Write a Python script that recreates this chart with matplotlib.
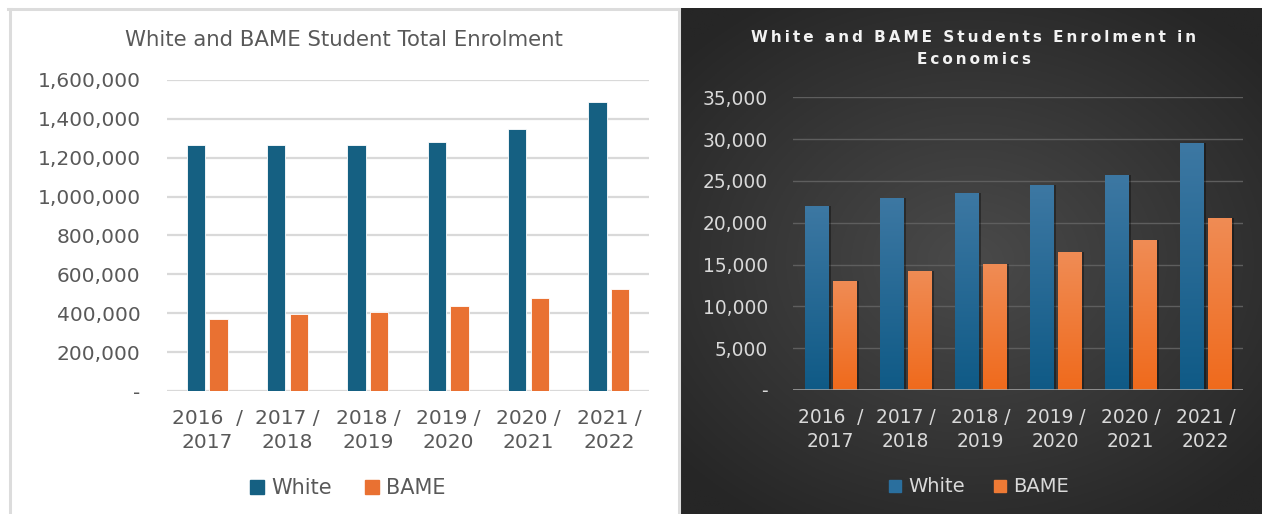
import numpy as np
import matplotlib.pyplot as plt
from matplotlib.lines import Line2D
from matplotlib.colors import LinearSegmentedColormap, to_rgb
from matplotlib.ticker import FuncFormatter

# academic years shown on both charts
years = ["2016  /\n2017", "2017 /\n2018", "2018 /\n2019",
         "2019 /\n2020", "2020 /\n2021", "2021 /\n2022"]

# all subjects
total_white = [1264000, 1264000, 1264000, 1283000, 1350000, 1485000]
total_bame = [372000, 394000, 405000, 439000, 478000, 523000]

# economics only
econ_white = [22040, 23000, 23600, 24480, 25670, 29500]
econ_bame = [13070, 14270, 15030, 16470, 17900, 20570]

W, H = 1262, 514
fig = plt.figure(figsize=(W / 100, H / 100), dpi=100)
fig.patch.set_facecolor("white")


def fx(px):
    return px / W


def fy(py):
    return 1 - py / H


def thousands(v, _):
    return "-" if v == 0 else f"{v:,.0f}"


# ---- left card border
border = "#dcdcdc"
for xs, ys in [([8, 679], [9, 9]), ([9.5, 9.5], [9, 514]), ([678.5, 678.5], [9, 514])]:
    fig.add_artist(Line2D([fx(v) for v in xs], [fy(v) for v in ys],
                          transform=fig.transFigure, color=border, lw=2.2))

# ---- dark card with radial shading
bg = fig.add_axes([fx(680), 0, fx(W - 680), fy(8)])
bg.axis("off")
gx, gy = np.meshgrid(np.linspace(-1, 1, 300), np.linspace(-1, 1, 260))
r = np.clip(np.sqrt(gx ** 2 + (gy * 1.1) ** 2) / 1.35, 0, 1)
inner, outer = np.array(to_rgb("#4a4a4a")), np.array(to_rgb("#262626"))
shade = inner[None, None, :] * (1 - r[..., None]) + outer[None, None, :] * r[..., None]
bg.imshow(shade, extent=(0, 1, 0, 1), aspect="auto")
bg.set_xlim(0, 1)
bg.set_ylim(0, 1)

x = np.arange(len(years))

# ---- left chart: total enrolment
ax1 = fig.add_axes([fx(167), fy(391), fx(649 - 167), (391 - 80) / H])
ax1.bar(x - 0.142, total_white, 0.23, color="#156082", edgecolor="white", lw=0.6, zorder=2)
ax1.bar(x + 0.142, total_bame, 0.23, color="#E97132", edgecolor="white", lw=0.6, zorder=2)
ax1.set_xlim(-0.5, 5.5)
ax1.set_ylim(0, 1600000)
ax1.set_yticks(np.arange(0, 1600001, 200000))
ax1.yaxis.set_major_formatter(FuncFormatter(thousands))
ax1.grid(axis="y", color="#d9d9d9", lw=1.6)
ax1.set_axisbelow(True)
for s in ax1.spines.values():
    s.set_visible(False)
ax1.tick_params(axis="y", length=0, pad=19, labelsize=14.5, labelcolor="#595959")
ax1.tick_params(axis="x", length=0, pad=13, labelsize=14.5, labelcolor="#595959")
ax1.set_xticks(x)
ax1.set_xticklabels(years)
for lbl in ax1.get_xticklabels():
    lbl.set_linespacing(1.3)

fig.text(fx(344), fy(40), "White and BAME Student Total Enrolment",
         ha="center", va="center", fontsize=15.3, color="#595959")

leg1 = [Line2D([], [], marker="s", ls="none", markersize=10, color="#156082"),
        Line2D([], [], marker="s", ls="none", markersize=10, color="#E97132")]
fig.legend(leg1, ["White", "BAME"], loc="center", bbox_to_anchor=(fx(346), fy(488)),
           ncol=2, frameon=False, fontsize=15, labelcolor="#595959",
           handletextpad=0.2, columnspacing=1.4, handlelength=1.0)

# ---- right chart: economics
ax2 = fig.add_axes([fx(793), fy(390), fx(450), 292.7 / H])
ax2.patch.set_alpha(0)
ax2.set_xlim(-0.5, 5.5)
ax2.set_ylim(0, 35000)

blue_map = LinearSegmentedColormap.from_list("blue", ["#0f5a86", "#3d78a3"])
orange_map = LinearSegmentedColormap.from_list("orange", ["#ef6a1c", "#f08c55"])
ramp = np.linspace(0, 1, 256)[:, None]

for vals, offset, cmap in [(econ_white, -0.19, blue_map), (econ_bame, 0.19, orange_map)]:
    # soft shadow behind each bar
    ax2.bar(x + offset + 0.035, vals, 0.313, color="black", alpha=0.35, zorder=1.5)
    bars = ax2.bar(x + offset, vals, 0.313, color="none", zorder=2)
    for b in bars:
        x0, w, h = b.get_x(), b.get_width(), b.get_height()
        im = ax2.imshow(ramp, extent=(x0, x0 + w, 0, h), origin="lower",
                        cmap=cmap, aspect="auto", zorder=2)
        im.set_clip_path(b)

ax2.set_xlim(-0.5, 5.5)
ax2.set_ylim(0, 35000)
ax2.set_yticks(np.arange(0, 35001, 5000))
ax2.yaxis.set_major_formatter(FuncFormatter(thousands))
ax2.grid(axis="y", color="#5e5e5e", lw=1.0)
ax2.set_axisbelow(True)
ax2.axhline(0, color="#a6a6a6", lw=1.8, zorder=3)
for s in ax2.spines.values():
    s.set_visible(False)
ax2.tick_params(axis="y", length=0, pad=18, labelsize=13.4, labelcolor="#d9d9d9")
ax2.tick_params(axis="x", length=0, pad=13, labelsize=13.4, labelcolor="#d9d9d9")
ax2.set_xticks(x)
ax2.set_xticklabels(years)
for lbl in ax2.get_xticklabels():
    lbl.set_linespacing(1.3)

spaced = lambda s: "\u2009".join(s)
fig.text(fx(974), fy(38), spaced("White and BAME Students Enrolment in"),
         ha="center", va="center", fontsize=11, fontweight="bold", color="#f2f2f2")
fig.text(fx(974), fy(60), spaced("Economics"),
         ha="center", va="center", fontsize=11, fontweight="bold", color="#f2f2f2")

leg2 = [Line2D([], [], marker="s", ls="none", markersize=9, color="#2a6f9e"),
        Line2D([], [], marker="s", ls="none", markersize=9, color="#ee7a35")]
fig.legend(leg2, ["White", "BAME"], loc="center", bbox_to_anchor=(fx(977), fy(487)),
           ncol=2, frameon=False, fontsize=14, labelcolor="#d9d9d9",
           handletextpad=0.2, columnspacing=1.3, handlelength=1.0)

fig.savefig("out.png", dpi=100)
